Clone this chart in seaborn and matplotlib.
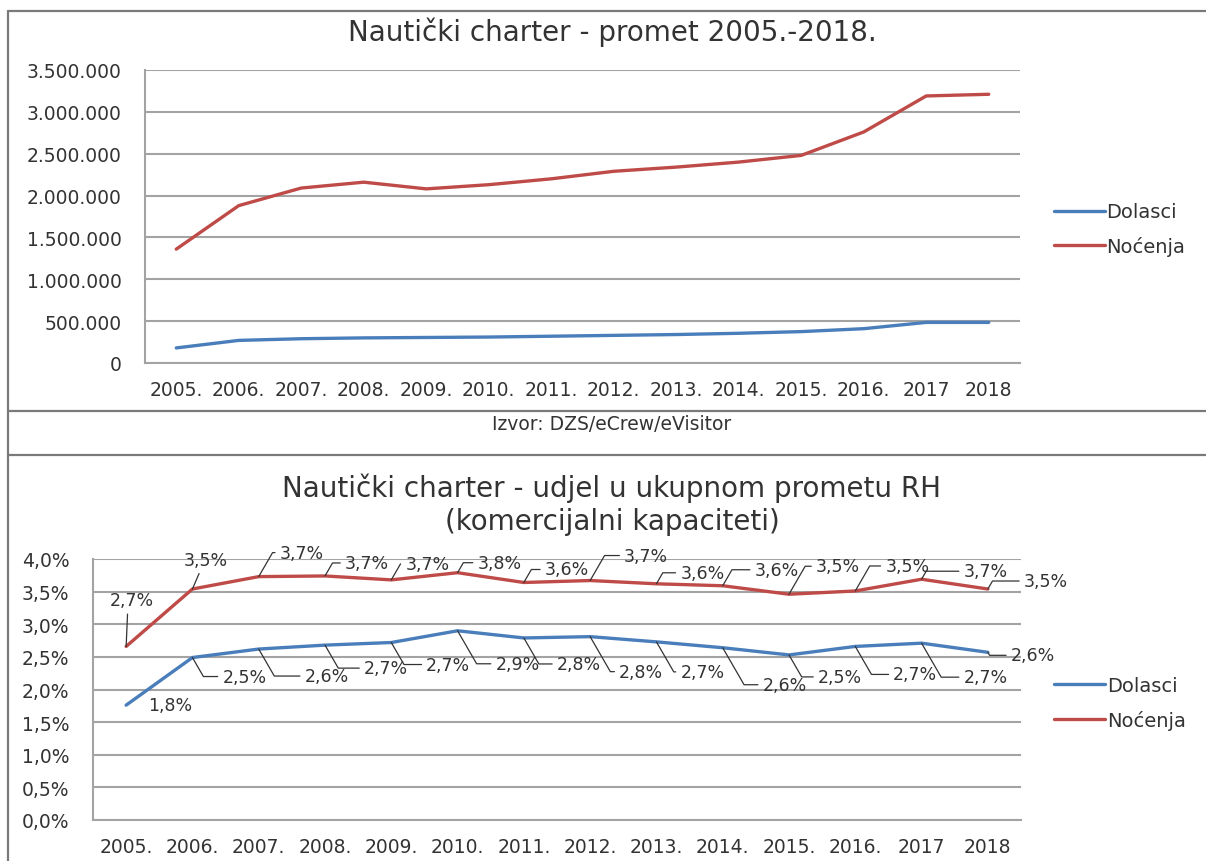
import matplotlib
matplotlib.use('Agg')
import matplotlib.pyplot as plt
from matplotlib.lines import Line2D
from matplotlib.ticker import FuncFormatter, MultipleLocator
import seaborn as sns
import pandas as pd

sns.set_style('white')
plt.rcParams['font.family'] = ['DejaVu Sans']

# podaci
years = ['2005.', '2006.', '2007.', '2008.', '2009.', '2010.', '2011.',
         '2012.', '2013.', '2014.', '2015.', '2016.', '2017', '2018']
dolasci = [180000, 270000, 290000, 300000, 305000, 310000, 320000,
           330000, 340000, 355000, 375000, 410000, 485000, 485000]
nocenja = [1360000, 1880000, 2090000, 2160000, 2080000, 2130000, 2200000,
           2290000, 2340000, 2400000, 2480000, 2760000, 3190000, 3210000]
udio_dolasci = [1.76, 2.49, 2.62, 2.68, 2.72, 2.90, 2.79,
                2.81, 2.73, 2.64, 2.53, 2.66, 2.71, 2.57]
udio_nocenja = [2.66, 3.54, 3.73, 3.74, 3.68, 3.79, 3.64,
                3.67, 3.62, 3.59, 3.46, 3.51, 3.69, 3.54]
series = ['Dolasci', 'Noćenja']
colors = {'Dolasci': '#4a7ebb', 'Noćenja': '#be4b48'}

# label offsets in pixels (dx, dy up)
off_noc = [(6, 46), (13, 29), (43, 24), (42, 13), (36, 16), (42, 10), (43, 13),
           (56, 25), (46, 11), (54, 16), (49, 28), (52, 25), (64, 8), (58, 8)]
off_dol = [(44, 0), (52, -19), (68, -27), (61, -23), (57, -22), (60, -33), (55, -26),
           (51, -35), (46, -30), (62, -37), (51, -22), (60, -28), (64, -34), (45, -3)]


def long_df(a, b):
    return pd.DataFrame({'godina': years * 2,
                         'vrijednost': a + b,
                         'serija': [series[0]] * len(years) + [series[1]] * len(years)})


grid_c = '#a3a3a3'
txt_c = '#333333'

fig = plt.figure(figsize=(12.06, 8.62), dpi=100)
ax1 = fig.add_axes([145 / 1206, 1 - 364 / 862, 875 / 1206, 293 / 862])
ax2 = fig.add_axes([93 / 1206, 1 - 821 / 862, 928 / 1206, 261 / 862])

for ax, df in [(ax1, long_df(dolasci, nocenja)), (ax2, long_df(udio_dolasci, udio_nocenja))]:
    sns.lineplot(data=df, x='godina', y='vrijednost', hue='serija', palette=colors,
                 sort=False, linewidth=2.4, ax=ax)
    ax.set_xlim(-0.5, len(years) - 0.5)
    ax.set_xlabel('')
    ax.set_ylabel('')
    ax.yaxis.grid(True, color=grid_c, lw=1.5)
    ax.xaxis.grid(False)
    for s in ['top', 'right']:
        ax.spines[s].set_visible(False)
    for s in ['left', 'bottom']:
        ax.spines[s].set_color(grid_c)
        ax.spines[s].set_linewidth(1.5)
    ax.tick_params(axis='both', length=0, colors=txt_c)
    ax.tick_params(axis='y', pad=17, labelsize=13.5)
    ax.tick_params(axis='x', pad=12, labelsize=13.5)

ax1.set_ylim(0, 3500000)
ax1.yaxis.set_major_locator(MultipleLocator(500000))
ax1.yaxis.set_major_formatter(FuncFormatter(lambda v, p: '{:,.0f}'.format(v).replace(',', '.')))
ax2.set_ylim(0, 4.0)
ax2.yaxis.set_major_locator(MultipleLocator(0.5))
ax2.yaxis.set_major_formatter(FuncFormatter(lambda v, p: '{:.1f}%'.format(v).replace('.', ',')))

for ax, bx, by in [(ax1, 1.039, 0.457), (ax2, 1.036, 0.448)]:
    sns.move_legend(ax, 'center left', bbox_to_anchor=(bx, by), frameon=False, title=None,
                    fontsize=14, handlelength=2.6, handletextpad=0.1, labelspacing=0.75,
                    borderaxespad=0, borderpad=0)
    for t in ax.get_legend().get_texts():
        t.set_color(txt_c)

# data labels with leader lines
for vals, offs, skip in [(udio_nocenja, off_noc, []), (udio_dolasci, off_dol, [0])]:
    for i, (v, (dx, dy)) in enumerate(zip(vals, offs)):
        lab = '{:.1f}%'.format(v).replace('.', ',')
        if i in skip:
            ap = None
        elif dx < 25:
            ap = dict(arrowstyle='-', color=txt_c, lw=0.9, shrinkA=1, shrinkB=0,
                      relpos=(0.4, 0.0 if dy > 0 else 1.0))
        else:
            ang = 60 if dy > 0 else -60
            ap = dict(arrowstyle='-', color=txt_c, lw=0.9, shrinkA=1, shrinkB=0,
                      relpos=(0.0, 0.5),
                      connectionstyle='angle,angleA=0,angleB={},rad=0'.format(ang))
        ax2.annotate(lab, xy=(i, v), xytext=(dx, dy), textcoords='offset pixels',
                     ha='center', va='center', fontsize=12.5, color=txt_c,
                     arrowprops=ap, annotation_clip=False)

# titles and source
fig.text(612 / 1206, 1 - 32 / 862, 'Nautički charter - promet 2005.-2018.',
         ha='center', va='center', fontsize=20, color=txt_c)
fig.text(612 / 1206, 1 - 488 / 862, 'Nautički charter - udjel u ukupnom prometu RH',
         ha='center', va='center', fontsize=20, color=txt_c)
fig.text(612 / 1206, 1 - 522 / 862, '(komercijalni kapaciteti)',
         ha='center', va='center', fontsize=20, color=txt_c)
fig.text(612 / 1206, 1 - 425 / 862, 'Izvor: DZS/eCrew/eVisitor',
         ha='center', va='center', fontsize=13.5, color=txt_c)

# frame lines
frame_c = '#7a7a7a'
for (x0, y0, x1, y1) in [(8, 12, 1206, 12), (8, 12, 8, 862), (8, 412, 1206, 412), (8, 456, 1206, 456)]:
    fig.add_artist(Line2D([x0 / 1206, x1 / 1206], [1 - y0 / 862, 1 - y1 / 862],
                          transform=fig.transFigure, color=frame_c, lw=1.6))

fig.savefig('out.png', dpi=100)
